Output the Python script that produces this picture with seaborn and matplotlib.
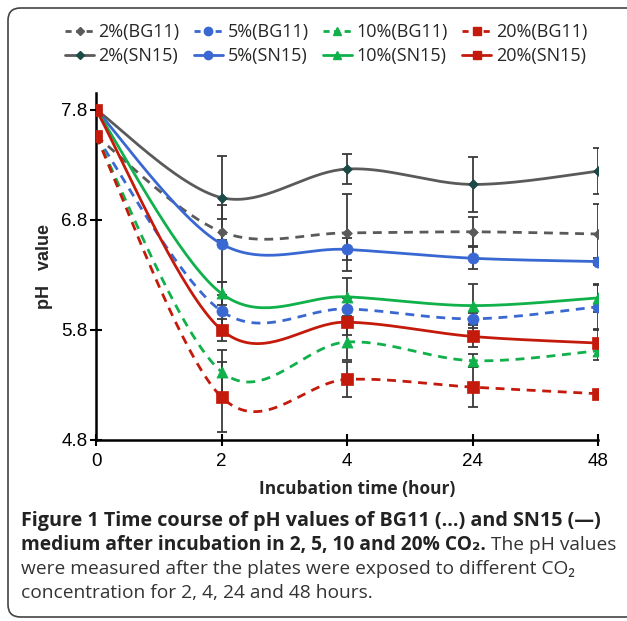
import numpy as np
import pandas as pd
import matplotlib
matplotlib.use("Agg")
import matplotlib.pyplot as plt
from matplotlib.patches import FancyBboxPatch
from matplotlib.lines import Line2D
import seaborn as sns

# ---- data ----
time_labels = ["0", "2", "4", "24", "48"]

bg11_2 = [7.56, 6.69, 6.68, 6.69, 6.67]
bg11_5 = [7.56, 5.97, 5.99, 5.90, 6.01]
bg11_10 = [7.56, 5.42, 5.69, 5.52, 5.61]
bg11_20 = [7.56, 5.19, 5.35, 5.28, 5.22]
sn15_2 = [7.80, 7.00, 7.26, 7.12, 7.24]
sn15_5 = [7.80, 6.58, 6.53, 6.45, 6.42]
sn15_10 = [7.80, 6.13, 6.10, 6.02, 6.09]
sn15_20 = [7.80, 5.80, 5.87, 5.74, 5.68]

bg11_2_err = [0.03, 0.12, 0.35, 0.13, 0.27]
bg11_5_err = [0.03, 0.15, 0.10, 0.05, 0.20]
bg11_10_err = [0.03, 0.20, 0.16, 0.06, 0.08]
bg11_20_err = [0.03, 0.32, 0.16, 0.18, 0.03]
sn15_2_err = [0.03, 0.38, 0.14, 0.25, 0.21]
sn15_5_err = [0.03, 0.35, 0.10, 0.10, 0.03]
sn15_10_err = [0.03, 0.10, 0.17, 0.20, 0.13]
sn15_20_err = [0.03, 0.10, 0.12, 0.10, 0.12]

GRAY, BLUE, GREEN, RED = "#5a5a5a", "#3a68d2", "#10b04a", "#c41a0c"

# name, values, errors, colour, marker, marker face, marker size, dashed
series = [
    ("2%(BG11)", bg11_2, bg11_2_err, GRAY, "D", GRAY, 5, True),
    ("5%(BG11)", bg11_5, bg11_5_err, BLUE, "o", BLUE, 8, True),
    ("10%(BG11)", bg11_10, bg11_10_err, GREEN, "^", GREEN, 8, True),
    ("20%(BG11)", bg11_20, bg11_20_err, RED, "s", RED, 8, True),
    ("2%(SN15)", sn15_2, sn15_2_err, GRAY, "D", "#1c4a46", 5, False),
    ("5%(SN15)", sn15_5, sn15_5_err, BLUE, "o", BLUE, 8, False),
    ("10%(SN15)", sn15_10, sn15_10_err, GREEN, "^", GREEN, 8, False),
    ("20%(SN15)", sn15_20, sn15_20_err, RED, "s", RED, 8, False),
]


def smooth_curve(ys, steps=40):
    # Excel style smoothed line: cubic Bezier through the points
    pts = np.column_stack([np.arange(len(ys)), ys]).astype(float)
    n = len(pts)
    out = []
    for i in range(n - 1):
        p0 = pts[max(i - 1, 0)]
        p1 = pts[i]
        p2 = pts[i + 1]
        p3 = pts[min(i + 2, n - 1)]
        c1 = p1 + (p2 - p0) / 6.0
        c2 = p2 - (p3 - p1) / 6.0
        t = np.linspace(0, 1, steps)[:, None]
        seg = ((1 - t) ** 3) * p1 + 3 * ((1 - t) ** 2) * t * c1 + 3 * (1 - t) * t ** 2 * c2 + t ** 3 * p2
        out.append(seg if i == 0 else seg[1:])
    return np.vstack(out)


sns.set_style("ticks")
plt.rcParams["font.family"] = ["Liberation Sans", "DejaVu Sans"]

fig = plt.figure(figsize=(6.27, 6.21), dpi=100)
ax = fig.add_axes([96 / 627, 1 - 440 / 621, (598 - 96) / 627, (440 - 93) / 621])

x_pos = np.arange(len(time_labels))

# error bars first (behind the lines)
for name, vals, errs, col, mk, mfc, ms, dashed in series:
    ax.errorbar(x_pos, vals, yerr=errs, fmt="none", ecolor="#3a3a3a",
                elinewidth=1.3, capsize=3.5, capthick=1.3, zorder=2)

for name, vals, errs, col, mk, mfc, ms, dashed in series:
    curve = smooth_curve(vals)
    df = pd.DataFrame({"x": curve[:, 0], "y": curve[:, 1]})
    sns.lineplot(data=df, x="x", y="y", ax=ax, color=col, lw=2.0, sort=False,
                 linestyle=(0, (3.2, 2.4)) if dashed else "-", zorder=3)
    pts = pd.DataFrame({"x": x_pos, "y": vals})
    sns.scatterplot(data=pts, x="x", y="y", ax=ax, marker=mk, s=ms ** 2,
                    color=mfc, edgecolor=mfc, linewidth=0.5, zorder=4)

ax.set_xlim(0, 4)
ax.set_ylim(4.8, 7.95)
ax.set_xticks(x_pos)
ax.set_xticklabels(time_labels)
ax.set_yticks([4.8, 5.8, 6.8, 7.8])
ax.set_yticklabels(["4.8", "5.8", "6.8", "7.8"])
ax.tick_params(axis="both", direction="inout", length=8, width=1.5,
               labelsize=13.5, colors="black")
ax.tick_params(axis="x", pad=5)
ax.tick_params(axis="y", pad=2)
for s in ["top", "right"]:
    ax.spines[s].set_visible(False)
for s in ["left", "bottom"]:
    ax.spines[s].set_linewidth(1.8)
    ax.spines[s].set_color("black")

ax.set_xlabel("Incubation time (hour)", fontsize=12.5, fontweight="bold",
              family=["Open Sans", "DejaVu Sans"])
ax.xaxis.set_label_coords(0.52, -0.115)
ax.set_ylabel("pH   value", fontsize=13, fontweight="bold")
ax.yaxis.set_label_coords(-0.085, 0.5)

# legend: two rows, BG11 on top, SN15 below
handles = {}
for name, vals, errs, col, mk, mfc, ms, dashed in series:
    handles[name] = Line2D([], [], color=col, lw=2.0,
                           linestyle=(0, (2.2, 1.6)) if dashed else "-",
                           marker=mk, markersize=ms * 0.75, markerfacecolor=mfc,
                           markeredgecolor=mfc)
order = ["2%(BG11)", "2%(SN15)", "5%(BG11)", "5%(SN15)",
         "10%(BG11)", "10%(SN15)", "20%(BG11)", "20%(SN15)"]
fig.legend([handles[k] for k in order], order, ncol=4, frameon=False,
           loc="center", bbox_to_anchor=(0.52, 1 - 44 / 621),
           prop={"family": ["Open Sans", "DejaVu Sans"], "size": 13},
           handlelength=1.6, handletextpad=0.25, columnspacing=0.8,
           labelspacing=0.35)

# rounded frame around the figure
frame = FancyBboxPatch((8 / 627, 4 / 621), 1.2, 1 - 12 / 621,
                       boxstyle="round,pad=0,rounding_size=0.02",
                       transform=fig.transFigure, fill=False,
                       edgecolor="#444444", lw=1.2)
fig.patches.append(frame)

# caption
cap_font = ["Open Sans", "DejaVu Sans"]
cap_size = 13.8
x0 = 21 / 627
fig.text(x0, 1 - 521 / 621, "Figure 1 Time course of pH values of BG11 (\u2026) and SN15 (\u2014)",
         fontsize=14.2, fontweight="bold", family=cap_font, va="center", color="#222222")
t_bold = fig.text(x0, 1 - 545 / 621, "medium after incubation in 2, 5, 10 and 20% CO\u2082.",
                  fontsize=cap_size, fontweight="bold", family=cap_font, va="center", color="#222222")
fig.canvas.draw()
bb = t_bold.get_window_extent()
fig.text(bb.x1 / fig.bbox.width + 5 / 627, 1 - 545 / 621, "The pH values",
         fontsize=cap_size, family=cap_font, va="center", color="#333333")
fig.text(x0, 1 - 569 / 621, "were measured after the plates were exposed to different CO\u2082",
         fontsize=cap_size, family=cap_font, va="center", color="#333333")
fig.text(x0, 1 - 593 / 621, "concentration for 2, 4, 24 and 48 hours.",
         fontsize=cap_size, family=cap_font, va="center", color="#333333")

fig.savefig("out.png", dpi=100)
